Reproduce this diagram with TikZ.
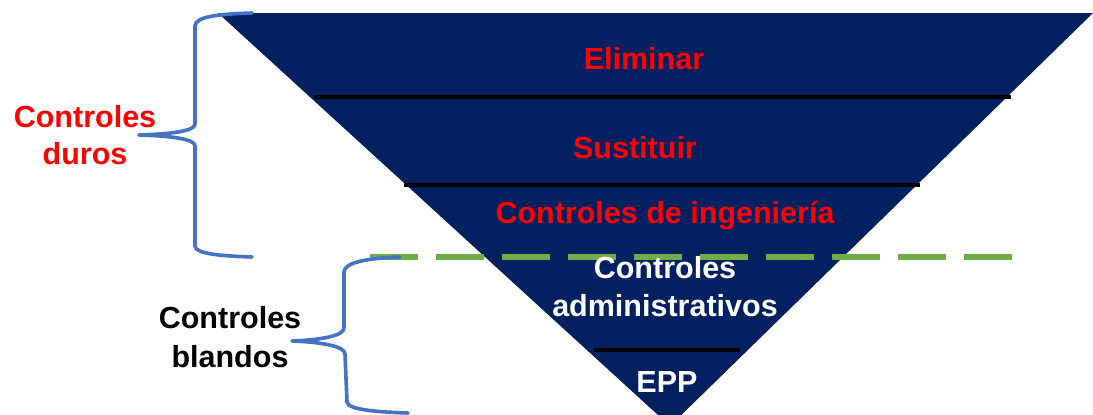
\documentclass[tikz,border=0pt]{standalone}
\usepackage{fontspec}
\setmainfont{Liberation Sans}
\definecolor{navy}{HTML}{002060}
\definecolor{brace}{HTML}{4472C4}
\definecolor{dashgreen}{HTML}{70AD47}
\definecolor{lblred}{HTML}{FF0000}
\tikzset{
  lbl/.style={anchor=base, inner sep=0pt, font=\fontsize{30.5}{37}\selectfont\bfseries},
  sep/.style={draw=black, line width=3.6pt},
  bracepath/.style={draw=brace, line width=3.6pt, line cap=round, line join=round},
}
\begin{document}
\begin{tikzpicture}[x=1pt,y=-1pt]
\useasboundingbox (0,0) rectangle (1093,415);
\begin{scope}
\clip (0,0) rectangle (1093,415);
% inverted pyramid
\fill[navy] (218,13) -- (1093,13) -- (670,426) -- cycle;
% separators
\coordinate (s1a) at (314,97); \coordinate (s1b) at (1011,97);
\coordinate (s2a) at (404,185); \coordinate (s2b) at (920,185);
\coordinate (s3a) at (594,350); \coordinate (s3b) at (740,350);
\draw[sep] (s1a) -- (s1b);
\draw[sep] (s2a) -- (s2b);
\draw[sep] (s3a) -- (s3b);
% green dashed divider
\coordinate (ga) at (370,257); \coordinate (gb) at (1012,257);
\draw[dashgreen, line width=6pt, dash pattern=on 48pt off 18pt] (ga) -- (gb);
% labels inside
\node[lbl, text=lblred] (elim) at (644,69) {Eliminar};
\node[lbl, text=lblred] (sust) at (635,158) {Sustituir};
\node[lbl, text=lblred] (ing) at (665,223) {Controles de ingeniería};
\node[lbl, text=white] (adm1) at (665,278) {Controles};
\node[lbl, text=white] (adm2) at (665,316) {administrativos};
\node[lbl, text=white] (epp) at (667,392) {EPP};
% left labels
\node[lbl, text=lblred] (duros1) at (85,127) {Controles};
\node[lbl, text=lblred] (duros2) at (85,164) {duros};
\node[lbl, text=black] (bl1) at (230,328) {Controles};
\node[lbl, text=black] (bl2) at (230,367) {blandos};
% braces
\draw[bracepath] (252,13) .. controls (222,14) and (195,16) .. (195,26)
  -- (195,124) .. controls (195,131) and (172,134) .. (139,135)
  .. controls (172,136) and (195,139) .. (195,146)
  -- (195,246) .. controls (195,254) and (222,256) .. (252,257);
\draw[bracepath] (400,257) .. controls (370,258) and (344,262) .. (344,272)
  -- (344,328) .. controls (344,336) and (320,340) .. (292,341)
  .. controls (320,342) and (345,346) .. (345,354)
  -- (347,402) .. controls (348,410) and (378,412) .. (408,413);
\end{scope}
\end{tikzpicture}
\end{document}
